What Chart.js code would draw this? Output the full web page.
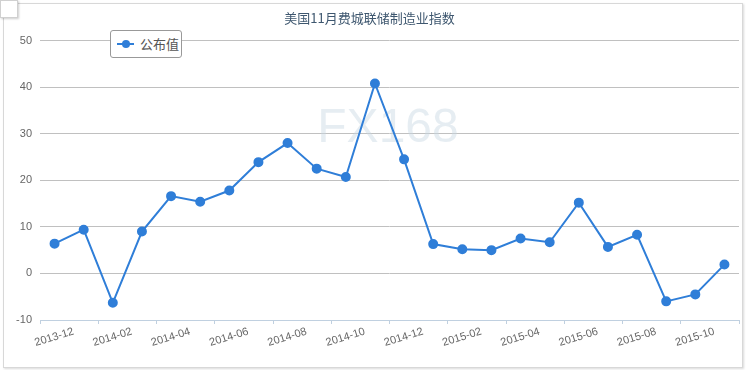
<!DOCTYPE html>
<html>
<head>
<meta charset="utf-8">
<script src="https://cdn.jsdelivr.net/npm/chart.js@4/dist/chart.umd.min.js"></script>
<style>
  html, body { margin: 0; padding: 0; background: #fff; }
  #wrap { position: relative; width: 750px; height: 370px; overflow: hidden; }
  #frame { position: absolute; left: 3px; top: 3px; width: 738px; height: 363px; border: 1px solid #d8d8d8; box-shadow: 1px 1px 2px rgba(0,0,0,0.15); }
  #corner { position: absolute; left: 0; top: 0; width: 16px; height: 16px; background: #fff; border: 1px solid #d0d0d0; box-shadow: 1px 1px 2px rgba(0,0,0,0.2); }
  #legend { position: absolute; left: 110px; top: 30px; width: 72px; height: 28px; border: 1px solid #999; border-radius: 3px; background: #fff;
            font: 13px "Noto Sans CJK SC", sans-serif; color: #555; box-sizing: border-box; }
  #legend .ln { position: absolute; left: 6px; top: 12px; width: 17px; height: 2px; background: #2f7ed8; }
  #legend .dot { position: absolute; left: 11px; top: 9px; width: 8px; height: 8px; border-radius: 50%; background: #2f7ed8; }
  #legend .tx { position: absolute; left: 29px; top: 4px; line-height: 18px; }
  canvas { position: absolute; left: 0; top: 0; }
</style>
</head>
<body>
<div id="wrap">
  <div id="frame"></div>
  <canvas id="chart" width="750" height="370"></canvas>
  <div id="corner"></div>
  <div id="legend"><span class="ln"></span><span class="dot"></span><span class="tx">公布值</span></div>
</div>
<script>
const months = ['2013-12', '2014-01', '2014-02', '2014-03', '2014-04', '2014-05', '2014-06', '2014-07',
  '2014-08', '2014-09', '2014-10', '2014-11', '2014-12', '2015-01', '2015-02', '2015-03', '2015-04',
  '2015-05', '2015-06', '2015-07', '2015-08', '2015-09', '2015-10', '2015-11'];
const published = [6.4, 9.4, -6.3, 9.0, 16.6, 15.4, 17.8, 23.9, 28.0, 22.5, 20.7, 40.8, 24.5,
  6.3, 5.2, 5.0, 7.5, 6.7, 15.2, 5.7, 8.3, -6.0, -4.5, 1.9];
const seriesName = '公布值';
const title = '美国11月费城联储制造业指数';

const watermark = {
  id: 'watermark',
  beforeDatasetsDraw(chart) {
    const c = chart.ctx;
    c.save();
    c.font = '48px "Liberation Sans", Arial, sans-serif';
    c.fillStyle = 'rgba(200,214,226,0.45)';
    c.textAlign = 'center';
    c.textBaseline = 'middle';
    c.fillText('FX168', 388, 129);
    c.restore();
  }
};

const evenOnly = (ctx) => (ctx.index === undefined || ctx.index % 2 === 0) ? '#c0d0e0' : 'rgba(0,0,0,0)';

new Chart(document.getElementById('chart'), {
  type: 'line',
  data: {
    labels: months,
    datasets: [{
      label: seriesName,
      data: published,
      borderColor: '#2f7ed8',
      backgroundColor: '#2f7ed8',
      pointBackgroundColor: '#2f7ed8',
      pointBorderColor: '#2f7ed8',
      borderWidth: 2,
      pointRadius: 4,
      tension: 0
    }]
  },
  plugins: [watermark],
  options: {
    responsive: false,
    animation: false,
    layout: { padding: { left: 0, right: 11, top: 0, bottom: 0 } },
    plugins: {
      legend: { display: false },
      tooltip: { enabled: false },
      title: {
        display: true,
        text: title,
        color: '#3e576f',
        font: { size: 13, family: '"Noto Sans CJK SC", sans-serif', weight: 'normal' },
        padding: { top: 10, bottom: 15 }
      }
    },
    scales: {
      x: {
        offset: true,
        grid: { offset: true, drawOnChartArea: false, tickLength: 4, color: evenOnly },
        border: { color: '#c0d0e0' },
        ticks: {
          autoSkip: false,
          minRotation: 17, maxRotation: 17,
          labelOffset: 19,
          padding: 1,
          color: '#666',
          font: { size: 11, family: '"Liberation Sans", Arial, sans-serif' },
          callback: (v, i) => i % 2 === 0 ? months[i] : ''
        },
        afterFit: (s) => { s.height = 50; }
      },
      y: {
        min: -10, max: 50,
        ticks: { stepSize: 10, padding: 8, color: '#666', font: { size: 11, family: '"Liberation Sans", Arial, sans-serif' } },
        grid: { color: '#c0c0c0', drawTicks: false },
        border: { display: false },
        afterFit: (s) => { s.width = 40; }
      }
    }
  }
});
</script>
</body>
</html>
